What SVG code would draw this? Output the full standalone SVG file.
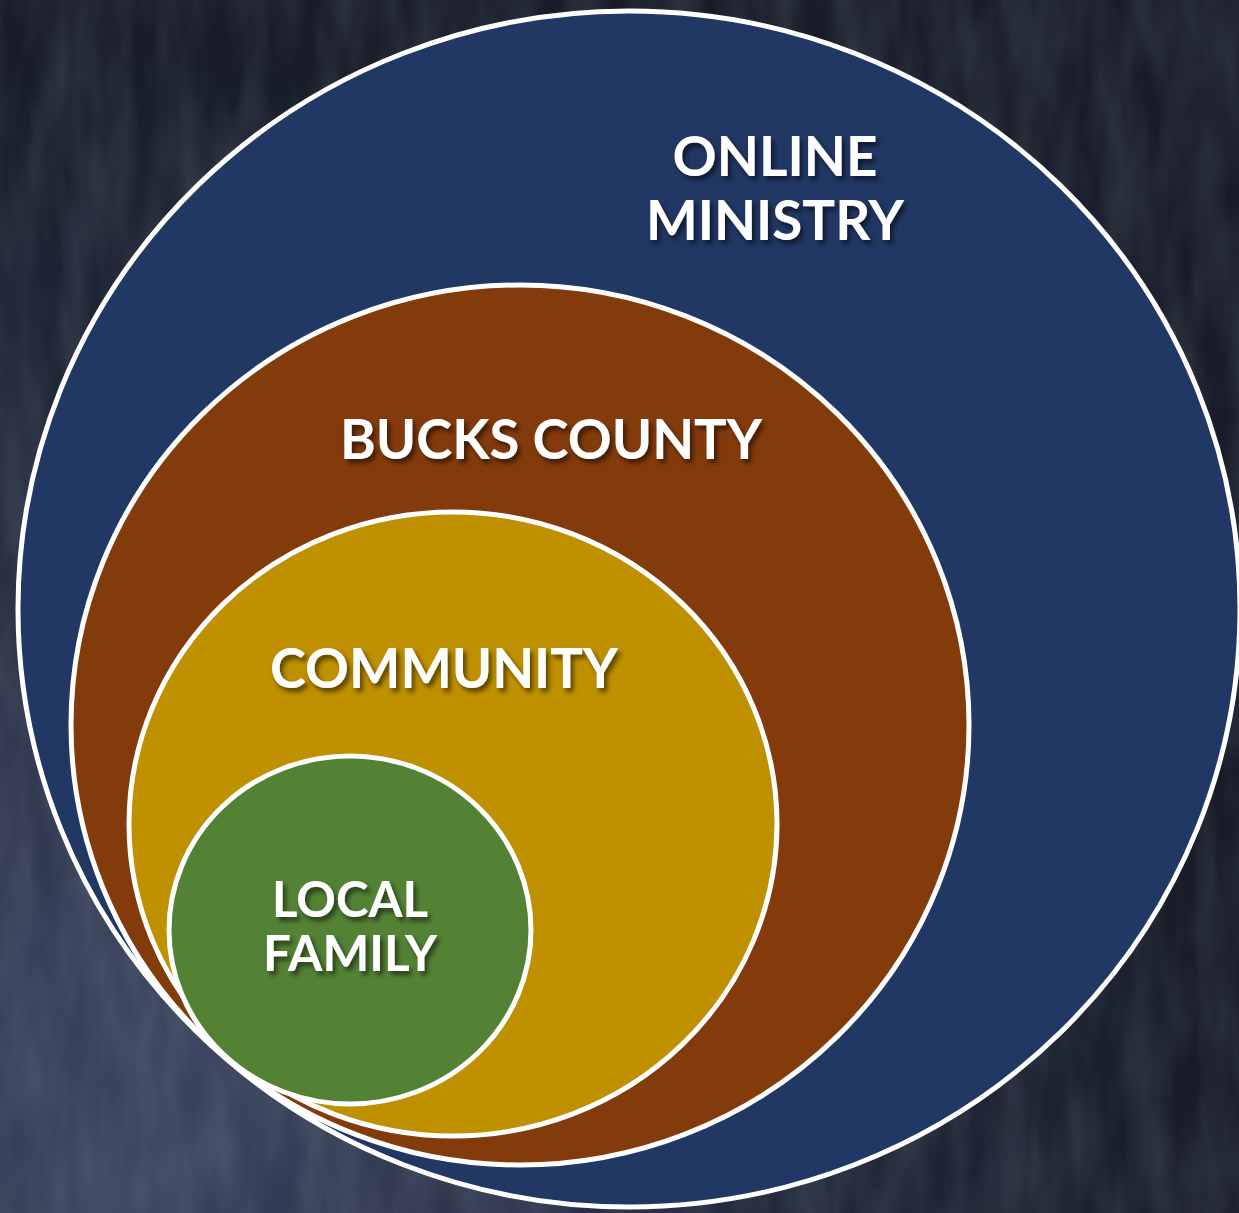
<svg xmlns="http://www.w3.org/2000/svg" width="1239" height="1213" viewBox="0 0 1239 1213">
<defs>
<radialGradient id="bgGrad" cx="0.12" cy="0.88" r="0.85">
<stop offset="0" stop-color="#3a4560"/>
<stop offset="0.45" stop-color="#262e41"/>
<stop offset="1" stop-color="#171c28"/>
</radialGradient>
<filter id="tex" x="0" y="0" width="100%" height="100%">
<feTurbulence type="fractalNoise" baseFrequency="0.03 0.008" numOctaves="3" seed="4" result="n"/>
<feColorMatrix in="n" type="matrix" values="0 0 0 0 0.6  0 0 0 0 0.65  0 0 0 0 0.8  0 0 0 0.22 -0.06"/>
</filter>
<filter id="shadow" x="-10%" y="-30%" width="130%" height="170%">
<feGaussianBlur in="SourceAlpha" stdDeviation="2.5"/>
<feOffset dx="3" dy="4" result="b"/>
<feFlood flood-color="#000" flood-opacity="0.55"/>
<feComposite in2="b" operator="in" result="s"/>
<feMerge><feMergeNode in="s"/><feMergeNode in="SourceGraphic"/></feMerge>
</filter>
</defs>
<style>
.ring{stroke:#ffffff;stroke-width:5}
.lbl{font-family:Lato,"Open Sans","Liberation Sans",sans-serif;font-weight:700;fill:#ffffff;text-anchor:middle;filter:url(#shadow)}
</style>
<rect width="1239" height="1213" fill="url(#bgGrad)"/>
<rect width="1239" height="1213" filter="url(#tex)"/>
<g id="online">
<ellipse class="ring" cx="629" cy="609" rx="611" ry="598" fill="#213764"/>
<text class="lbl" x="775" y="176" font-size="55" textLength="205" lengthAdjust="spacingAndGlyphs">ONLINE</text>
<text class="lbl" x="775" y="240" font-size="55" textLength="258" lengthAdjust="spacingAndGlyphs">MINISTRY</text>
</g>
<g id="bucks">
<ellipse class="ring" cx="520" cy="725" rx="449" ry="440" fill="#843b0c"/>
<text class="lbl" x="551" y="459" font-size="55" textLength="422" lengthAdjust="spacingAndGlyphs">BUCKS COUNTY</text>
</g>
<g id="community">
<ellipse class="ring" cx="453" cy="824" rx="324" ry="312" fill="#bf9000"/>
<text class="lbl" x="444" y="688" font-size="55" textLength="348" lengthAdjust="spacingAndGlyphs">COMMUNITY</text>
</g>
<g id="family">
<ellipse class="ring" cx="350" cy="930" rx="181" ry="174" fill="#548235"/>
<text class="lbl" x="350" y="917" font-size="49" textLength="156" lengthAdjust="spacingAndGlyphs">LOCAL</text>
<text class="lbl" x="350" y="971" font-size="49" textLength="174" lengthAdjust="spacingAndGlyphs">FAMILY</text>
</g>
<g id="connectors"/>
</svg>
